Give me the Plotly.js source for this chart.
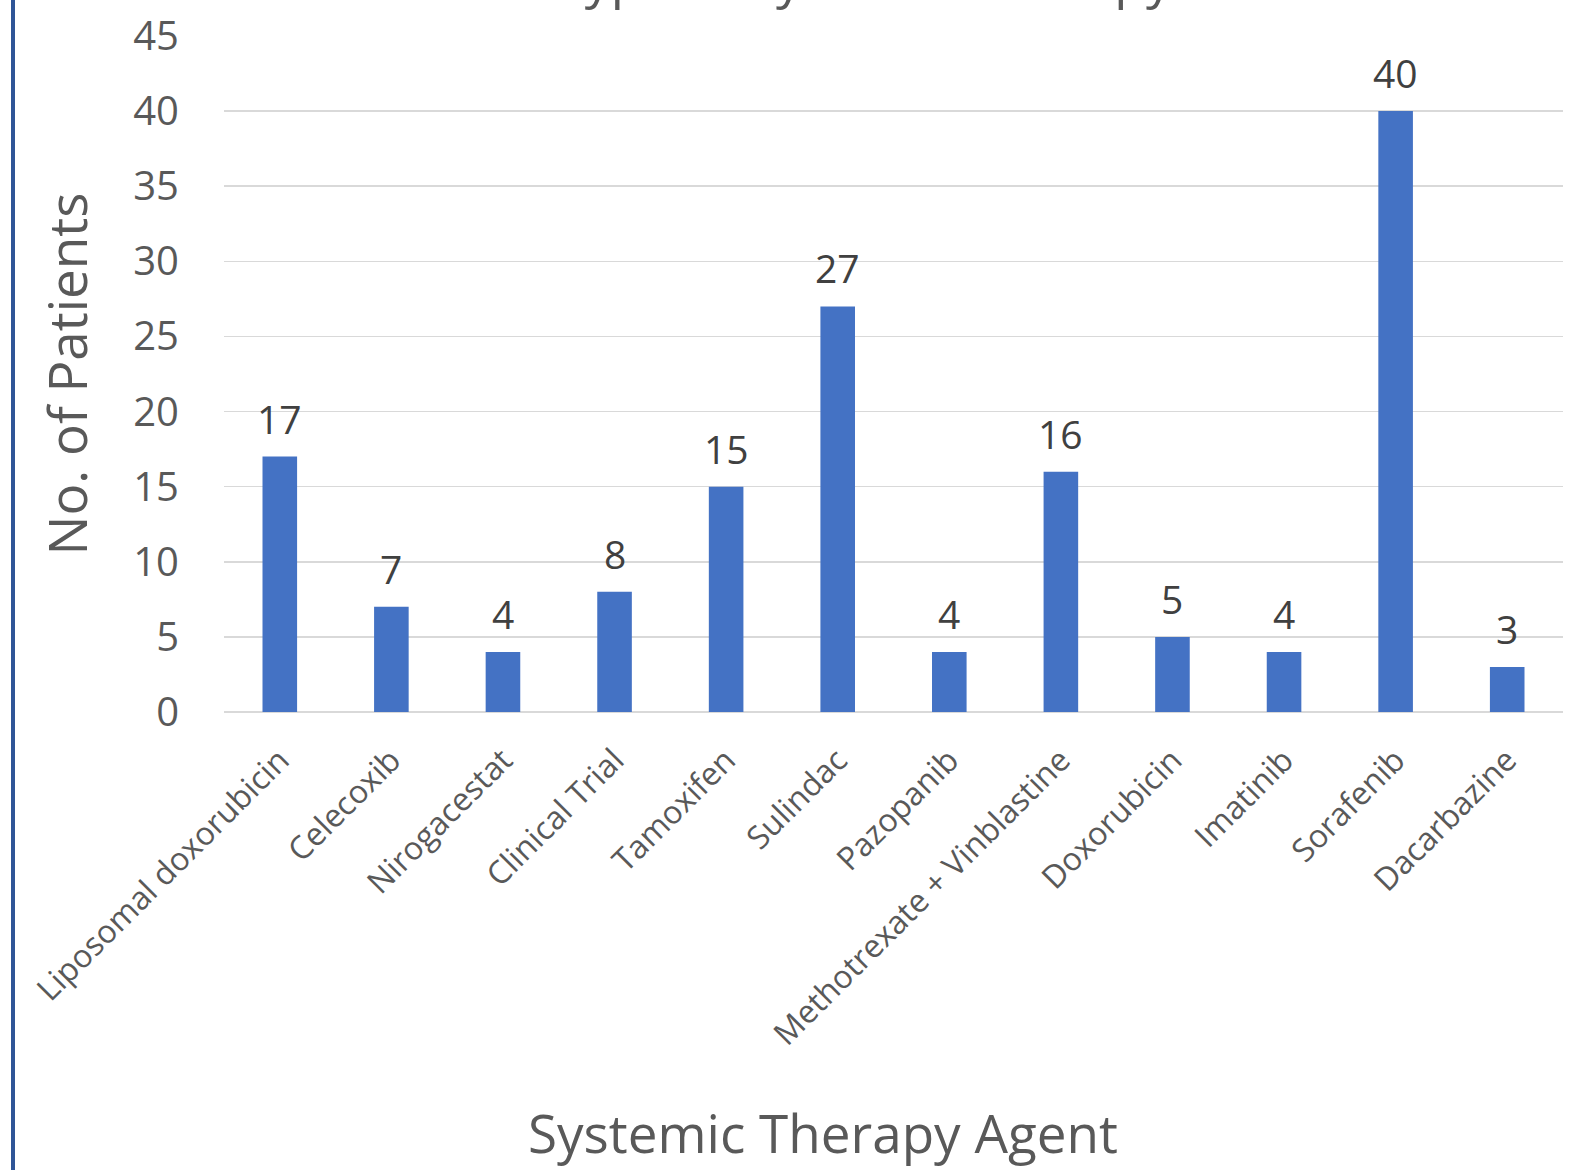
<!DOCTYPE html>
<html>
<head>
<meta charset="utf-8">
<script src="https://cdn.plot.ly/plotly-3.0.1.min.js"></script>
<style>
  html, body { margin: 0; padding: 0; background: #ffffff; }
  #chart { width: 1578px; height: 1170px; position: relative; }
  #edge { position: absolute; left: 11px; top: 0; width: 4px; height: 1170px; background: #2F5597; z-index: 10; }
</style>
</head>
<body>
<div id="chart"></div>
<div id="edge"></div>
<script>
const agents = ["Liposomal doxorubicin", "Celecoxib", "Nirogacestat", "Clinical Trial", "Tamoxifen", "Sulindac", "Pazopanib", "Methotrexate + Vinblastine", "Doxorubicin", "Imatinib", "Sorafenib", "Dacarbazine"];
const patients = [17, 7, 4, 8, 15, 27, 4, 16, 5, 4, 40, 3];
const yTicks = [0, 5, 10, 15, 20, 25, 30, 35, 40, 45];
const chartTitle = "Type of Systemic Therapy";

const FONT = "Open Sans, Lato, sans-serif";

const labelAnnotations = agents.map((a, i) => ({
  x: a, y: patients[i], xref: "x", yref: "y",
  text: String(patients[i]), showarrow: false,
  yanchor: "bottom", yshift: 10,
  font: {family: FONT, size: 39, color: "#404040"}
}));

const data = [{
  type: "bar",
  x: agents,
  y: patients,
  marker: {color: "#4472C4"},
  hoverinfo: "x+y"
}];

const layout = {
  width: 1578, height: 1170,
  margin: {l: 224, r: 15, t: 36, b: 458},
  paper_bgcolor: "#ffffff", plot_bgcolor: "#ffffff",
  bargap: 0.69,
  showlegend: false,
  xaxis: {
    type: "category",
    tickangle: -45,
    tickfont: {family: FONT, size: 32, color: "#595959"},
    showgrid: false, showline: false, ticks: "",
    zeroline: false,
    ticklabelstandoff: 22
  },
  yaxis: {
    range: [0, 45],
    tickvals: yTicks,
    tickfont: {family: FONT, size: 40, color: "#595959"},
    gridcolor: "#d9d9d9", gridwidth: 1.5,
    zeroline: true, zerolinecolor: "#d9d9d9", zerolinewidth: 1.5,
    showline: false, ticks: "",
    ticklabelstandoff: 44,
    title: {text: "No. of Patients", font: {family: FONT, size: 53, color: "#595959"}, standoff: 28}
  },
  annotations: labelAnnotations.concat([{
    text: "Systemic Therapy Agent", showarrow: false,
    xref: "paper", yref: "paper",
    x: (823 - 224) / (1563 - 224), y: -(1132 - 712) / (712 - 36),
    xanchor: "center", yanchor: "middle",
    font: {family: FONT, size: 53, color: "#595959"}
  }, {
    text: chartTitle, showarrow: false,
    xref: "paper", yref: "paper",
    x: (864 - 224) / (1563 - 224), y: (712 + 23) / (712 - 36),
    xanchor: "center", yanchor: "middle",
    font: {family: FONT, size: 52, color: "#595959"}
  }])
};

Plotly.newPlot("chart", data, layout, {displayModeBar: false, staticPlot: true});
</script>
</body>
</html>
